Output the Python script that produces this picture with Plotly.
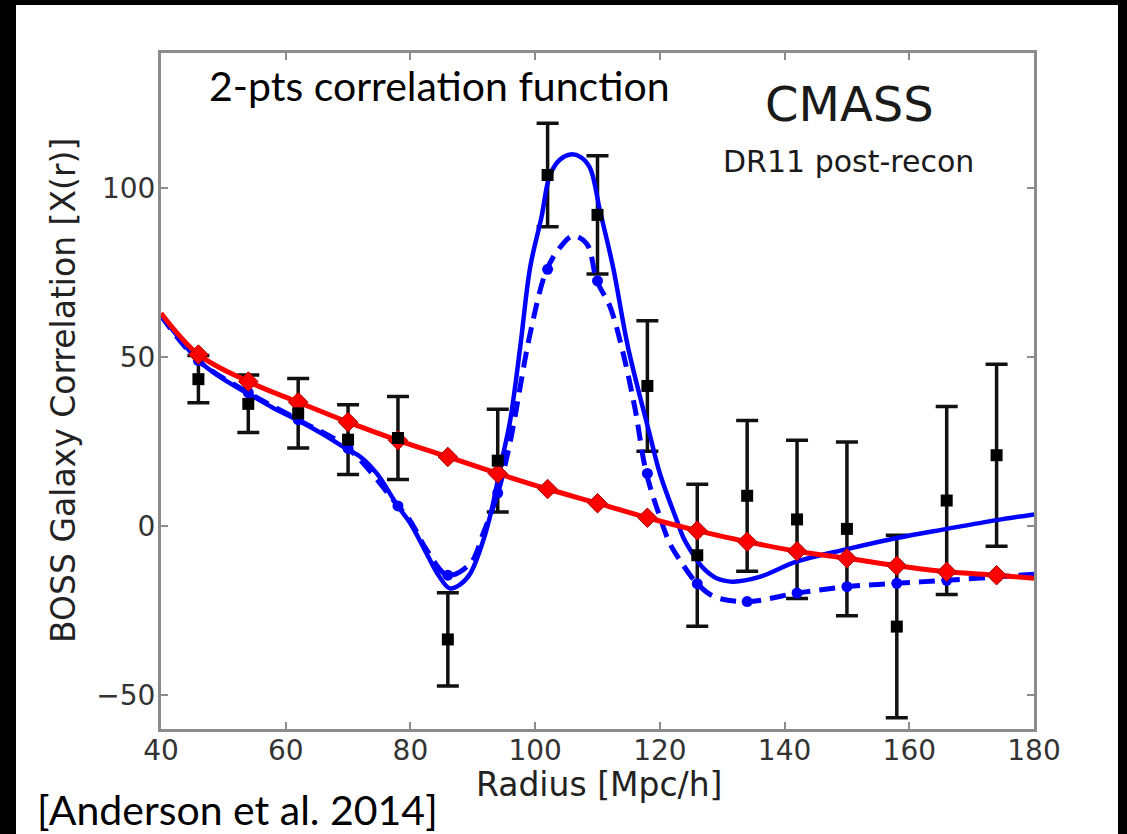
import plotly.graph_objects as go

# ---- data ----
r_data = [46, 54, 62, 70, 78, 86, 94, 102, 110, 118, 126, 134, 142, 150, 158, 166, 174]
xi_data = [43.5, 36.2, 33.4, 25.6, 26.1, -33.5, 19.4, 103.9, 92.1, 41.5, -8.6, 9.0, 2.0, -0.8, -29.7, 7.6, 21.0]
xi_err = [7.0, 8.5, 10.3, 10.3, 12.3, 13.8, 15.2, 15.3, 17.5, 19.3, 21.0, 22.3, 23.4, 25.7, 27.0, 27.8, 26.9]

r_nobao = [40, 46, 54, 62, 70, 78, 86, 94, 102, 110, 118, 126, 134, 142, 150, 158, 166, 174, 180]
xi_nobao = [63.0, 50.8, 42.8, 36.7, 30.8, 25.4, 20.5, 15.6, 11.0, 6.8, 2.5, -1.3, -4.6, -7.4, -9.5, -11.7, -13.5, -14.5, -15.4]
r_nobao_pts = [46, 54, 62, 70, 78, 86, 94, 102, 110, 118, 126, 134, 142, 150, 158, 166, 174]
xi_nobao_pts = [50.8, 42.8, 36.7, 30.8, 25.4, 20.5, 15.6, 11.0, 6.8, 2.5, -1.3, -4.6, -7.4, -9.5, -11.7, -13.5, -14.5]

r_model = [40, 43, 46, 50, 54, 58, 62, 66, 70, 72, 74.6, 78, 80, 82.6, 84.5, 86.3, 88, 89.6, 91.7, 93, 93.8, 94.9, 96,
           97.6, 99.2, 101, 102.4, 104, 105.7, 107.3, 108.8, 110.4, 112.5, 114.9, 118.4, 120, 122.7, 123.8, 125.4,
           127, 129.1, 131.7, 136, 141.9, 150, 158, 166, 174, 180]
xi_model = [62.3, 55.5, 49.0, 43.5, 39.2, 35.0, 31.3, 27.2, 22.6, 20.5, 15.6, 5.9, 0.8, -8.1, -14.5, -18.4, -17.2, -14.0, -4.1, 4.7,
            11.6, 21.5, 31.3, 52.9, 76.6, 91.3, 104.0, 108.5, 110.0, 109.2, 106.0, 93.3, 76.6, 52.9, 27.0, 15.6, 1.8,
            -3.5, -8.5, -12.5, -15.4, -16.4, -15.0, -10.5, -6.8, -3.5, -0.8, 1.8, 3.5]

r_prerec = [40, 46, 54, 62, 70, 78, 80, 82.6, 86, 89.6, 91.7, 94, 96, 99.2, 101.85, 104, 106.1, 108.3, 109.9, 112,
            114, 116, 117.8, 120, 121.6, 123.2, 126, 128.8, 134, 142, 150, 158, 166, 174, 180]
xi_prerec = [62.3, 49.0, 39.5, 31.5, 23.0, 6.0, 1.5, -7.0, -14.5, -11.0, -2.0, 9.8, 25.0, 57.0, 75.8, 82.5, 85.9, 83.5,
             72.6, 65.0, 52.0, 35.0, 16.0, 2.8, -5.1, -10.0, -17.0, -20.9, -22.3, -19.8, -17.9, -16.9, -16.0, -15.0, -14.2]
r_prerec_pts = [46, 54, 62, 70, 78, 86, 94, 102, 110, 118, 126, 134, 142, 150, 158, 166, 174]
xi_prerec_pts = [49.0, 39.5, 31.5, 23.0, 6.0, -14.5, 9.8, 76.0, 72.6, 15.6, -17.0, -22.3, -19.8, -17.9, -16.9, -16.0, -15.0]

x_ticks = [40, 60, 80, 100, 120, 140, 160, 180]
y_ticks = [-50, 0, 50, 100]
y_tick_text = ["\u221250", "0", "50", "100"]

# ---- layout geometry (pixels) ----
W, H = 1127, 834
L, R, T, B = 161, 1034, 53, 729


def px(x):
    return (x - L) / (R - L)


def py(y):
    return (B - y) / (B - T)


fig = go.Figure()

# error bars (behind)
fig.add_trace(go.Scatter(
    x=r_data, y=xi_data, mode="markers",
    marker=dict(size=1, color="rgba(0,0,0,0)"),
    error_y=dict(type="data", array=xi_err, visible=True, color="#111111", thickness=3.5, width=11),
    showlegend=False, hoverinfo="skip"))

# model curves
fig.add_trace(go.Scatter(
    x=r_model, y=xi_model, mode="lines",
    line=dict(color="#0000ff", width=4.5, shape="spline", smoothing=1.0),
    showlegend=False))
fig.add_trace(go.Scatter(
    x=r_prerec, y=xi_prerec, mode="lines",
    line=dict(color="#0000ff", width=5, dash="16px,9px", shape="spline", smoothing=1.0),
    showlegend=False))
fig.add_trace(go.Scatter(
    x=r_prerec_pts, y=xi_prerec_pts, mode="markers",
    marker=dict(symbol="circle", size=11, color="#0000ff"),
    showlegend=False))
fig.add_trace(go.Scatter(
    x=r_nobao, y=xi_nobao, mode="lines",
    line=dict(color="#ff0000", width=5, shape="spline", smoothing=1.0),
    showlegend=False))
fig.add_trace(go.Scatter(
    x=r_nobao_pts, y=xi_nobao_pts, mode="markers",
    marker=dict(symbol="diamond", size=15, color="#ff0000", line=dict(color="#aa0000", width=1)),
    showlegend=False))

# data points (on top)
fig.add_trace(go.Scatter(
    x=r_data, y=xi_data, mode="markers",
    marker=dict(symbol="square", size=12, color="#000000"),
    showlegend=False))

axis_common = dict(
    showline=True, linecolor="#8c8c8c", linewidth=3, mirror="ticks",
    ticks="inside", ticklen=7, tickwidth=2, tickcolor="#8c8c8c",
    showgrid=False, zeroline=False,
    tickfont=dict(family="DejaVu Sans", size=28, color="#333333"),
)

fig.update_xaxes(range=[40, 180], tickvals=x_ticks, ticktext=[str(v) for v in x_ticks],
                 ticklabelstandoff=-6, **axis_common)
fig.update_yaxes(range=[-60, 140], tickvals=y_ticks, ticktext=y_tick_text,
                 ticklabelstandoff=-3, **axis_common)

annotations = [
    dict(text="2-pts correlation function", x=px(207), y=py(86), xanchor="left", yanchor="middle",
         font=dict(family="Lato", size=41, color="#000000")),
    dict(text="CMASS", x=px(849), y=py(104), xanchor="center", yanchor="middle",
         font=dict(family="DejaVu Sans", size=48, color="#1a1a1a")),
    dict(text="DR11 post-recon", x=px(848), y=py(161), xanchor="center", yanchor="middle",
         font=dict(family="DejaVu Sans", size=30, color="#1a1a1a")),
    dict(text="BOSS Galaxy Correlation [X(r)]", x=px(63), y=py(391), xanchor="center", yanchor="middle",
         textangle=-90, font=dict(family="DejaVu Sans", size=33, color="#222222")),
    dict(text="Radius [Mpc/h]", x=px(599), y=py(784), xanchor="center", yanchor="middle",
         font=dict(family="DejaVu Sans", size=33, color="#222222")),
    dict(text="[Anderson et al. 2014]", x=px(35), y=py(809), xanchor="left", yanchor="middle",
         font=dict(family="Lato", size=41, color="#000000")),
]
for a in annotations:
    a.update(xref="paper", yref="paper", showarrow=False)

fig.update_layout(
    width=W, height=H,
    margin=dict(l=L, r=W - R, t=T, b=H - B),
    paper_bgcolor="#000000",
    plot_bgcolor="#ffffff",
    annotations=annotations,
    shapes=[dict(type="rect", xref="paper", yref="paper", x0=px(16), x1=px(1118), y0=py(834), y1=py(5),
                 fillcolor="#ffffff", line=dict(width=0), layer="below")],
    showlegend=False,
)

fig.write_html("out.html")
